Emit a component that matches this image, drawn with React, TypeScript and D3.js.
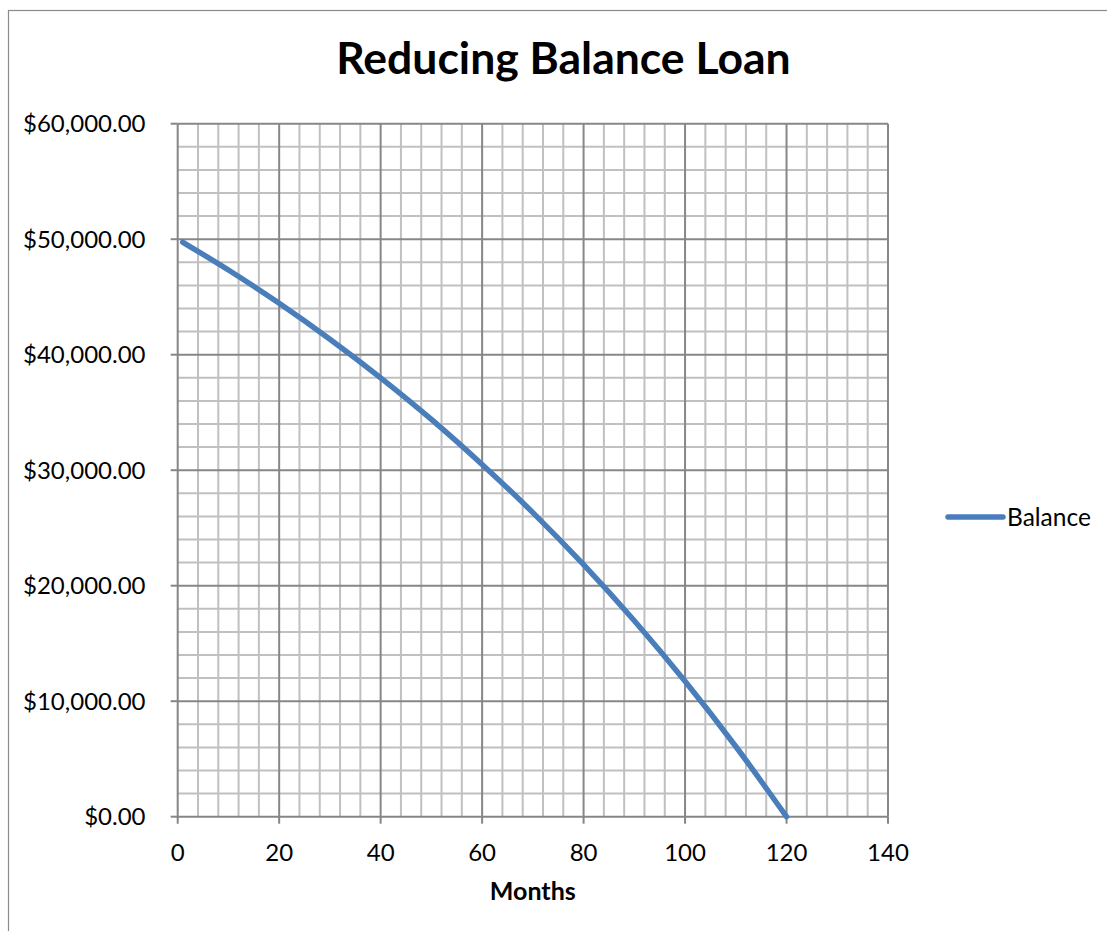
import React from "react";
import * as d3 from "d3";

const months = [1, 10, 20, 30, 40, 50, 60, 70, 80, 90, 100, 110, 120];
const balance = [49740, 47330, 44450, 41340, 38000, 34400, 30500, 26330, 21820, 16960, 11720, 6080, 0];
const xTicks = [0, 20, 40, 60, 80, 100, 120, 140];
const yTicks = [0, 10000, 20000, 30000, 40000, 50000, 60000];
const xMinor = d3.range(0, 141, 4);
const yMinor = d3.range(0, 60001, 2000);
const title = "Reducing Balance Loan";
const xTitle = "Months";
const seriesName = "Balance";

const W = 1107;
const H = 931;
const FONT = "Lato, 'Open Sans', sans-serif";

export default function App() {
  const x = d3.scaleLinear().domain([0, 140]).range([177.7, 888]);
  const y = d3.scaleLinear().domain([0, 60000]).range([816.7, 123.7]);
  const fmt = (v: number) => "$" + d3.format(",.2f")(v);
  const line = d3
    .line<number>()
    .x((_, i) => x(months[i]))
    .y((d) => y(d))
    .curve(d3.curveMonotoneX);

  const [x0, x1] = x.range();
  const [y0, y1] = y.range();

  return (
    <svg
      width={W}
      height={H}
      style={{ position: "absolute", left: 0, top: 0, background: "#fff" }}
      fontFamily={FONT}
    >
      <rect x={8.5} y={10.5} width={1130} height={950} fill="#fff" stroke="#8c8c8c" strokeWidth={1.2} />
      <text x={563.4} y={73.5} textAnchor="middle" fontSize={44.5} fontWeight="bold" fill="#000">
        {title}
      </text>
      {/* minor grid */}
      <g stroke="#c0c0c0" strokeWidth={2}>
        {xMinor.filter((v) => v % 20 !== 0).map((v) => (
          <line key={"xm" + v} x1={x(v)} x2={x(v)} y1={y0} y2={y1} />
        ))}
        {yMinor.filter((v) => v % 10000 !== 0).map((v) => (
          <line key={"ym" + v} x1={x0} x2={x1} y1={y(v)} y2={y(v)} />
        ))}
      </g>
      {/* major grid */}
      <g stroke="#878787" strokeWidth={2}>
        {xTicks.filter((v) => v !== 0).map((v) => (
          <line key={"xM" + v} x1={x(v)} x2={x(v)} y1={y0} y2={y1} />
        ))}
        {yTicks.filter((v) => v !== 0).map((v) => (
          <line key={"yM" + v} x1={x0} x2={x1} y1={y(v)} y2={y(v)} />
        ))}
      </g>
      {/* axes */}
      <g stroke="#868686" strokeWidth={2}>
        <line x1={x0} x2={x0} y1={y0 + 1} y2={y1} />
        <line x1={x0} x2={x1} y1={y0} y2={y0} />
        {yTicks.map((v) => (
          <line key={"yt" + v} x1={x0 - 7} x2={x0} y1={y(v)} y2={y(v)} />
        ))}
        {xTicks.map((v) => (
          <line key={"xt" + v} x1={x(v)} x2={x(v)} y1={y0} y2={y0 + 7} />
        ))}
      </g>
      {/* series */}
      <path
        d={line(balance) || ""}
        fill="none"
        stroke="#4a7ebb"
        strokeWidth={5.5}
        strokeLinecap="round"
        strokeLinejoin="round"
      />
      {/* tick labels */}
      <g fontSize={24} fill="#000">
        {yTicks.map((v) => (
          <text key={"yl" + v} x={145.5} y={y(v) + 8.6} textAnchor="end">
            {fmt(v)}
          </text>
        ))}
        {xTicks.map((v) => (
          <text key={"xl" + v} x={x(v)} y={860.6} textAnchor="middle">
            {v}
          </text>
        ))}
      </g>
      <text x={532.8} y={900} textAnchor="middle" fontSize={25} fontWeight="bold" fill="#000">
        {xTitle}
      </text>
      {/* legend */}
      <line x1={948} x2={1003} y1={517} y2={517} stroke="#4a7ebb" strokeWidth={5.5} strokeLinecap="round" />
      <text x={1007} y={525.6} fontSize={24.5} fill="#000">
        {seriesName}
      </text>
    </svg>
  );
}
